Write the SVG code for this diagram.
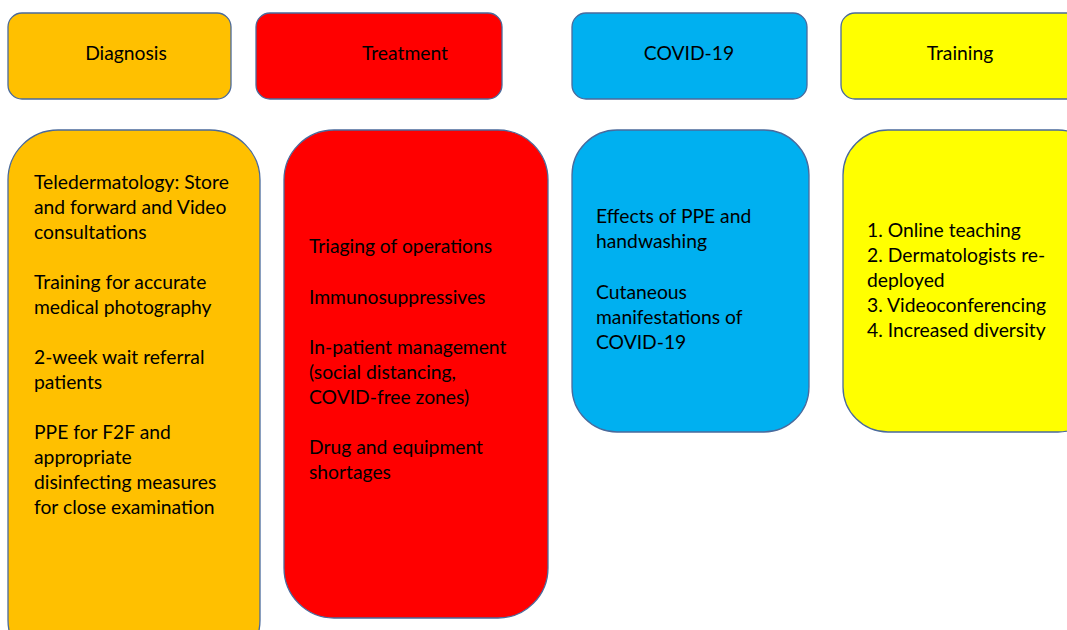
<svg xmlns="http://www.w3.org/2000/svg" width="1067" height="630" viewBox="0 0 1067 630">
<style>
.box{stroke:#4a6a9c;stroke-width:1.3}
.t{font-family:Lato,"Liberation Sans",sans-serif;font-size:19.3px;fill:#000}
.h{text-anchor:middle}
</style>
<rect width="1067" height="630" fill="#fff"/>
<g id="diagnosis-header"><rect class="box" x="8" y="13" width="223" height="86" rx="14" fill="#FFC000"/><text class="t h" x="126" y="60">Diagnosis</text></g>
<g id="treatment-header"><rect class="box" x="256" y="13" width="246" height="86" rx="14" fill="#FF0000"/><text class="t h" x="405" y="60">Treatment</text></g>
<g id="covid-header"><rect class="box" x="572" y="13" width="235" height="86" rx="14" fill="#00B0F0"/><text class="t h" x="689" y="60">COVID-19</text></g>
<g id="training-header"><rect class="box" x="841" y="13" width="250" height="86" rx="14" fill="#FFFF00"/><text class="t h" x="960" y="60">Training</text></g>
<g id="diagnosis-body"><rect class="box" x="8" y="130" width="252" height="540" rx="50" fill="#FFC000"/>
<text class="t" x="34"><tspan x="34" y="189">Teledermatology: Store</tspan><tspan x="34" y="214">and forward and Video</tspan><tspan x="34" y="239">consultations</tspan><tspan x="34" y="289">Training for accurate</tspan><tspan x="34" y="314">medical photography</tspan><tspan x="34" y="364">2-week wait referral</tspan><tspan x="34" y="389">patients</tspan><tspan x="34" y="439">PPE for F2F and</tspan><tspan x="34" y="464">appropriate</tspan><tspan x="34" y="489">disinfecting measures</tspan><tspan x="34" y="514">for close examination</tspan></text></g>
<g id="treatment-body"><rect class="box" x="284" y="130" width="264" height="488" rx="50" fill="#FF0000"/>
<text class="t"><tspan x="309" y="253">Triaging of operations</tspan><tspan x="309" y="304">Immunosuppressives</tspan><tspan x="309" y="354">In-patient management</tspan><tspan x="309" y="379">(social distancing,</tspan><tspan x="309" y="404">COVID-free zones)</tspan><tspan x="309" y="454">Drug and equipment</tspan><tspan x="309" y="479">shortages</tspan></text></g>
<g id="covid-body"><rect class="box" x="572" y="130" width="237" height="302" rx="45" fill="#00B0F0"/>
<text class="t"><tspan x="596" y="223">Effects of PPE and</tspan><tspan x="596" y="248">handwashing</tspan><tspan x="596" y="299">Cutaneous</tspan><tspan x="596" y="324">manifestations of</tspan><tspan x="596" y="349">COVID-19</tspan></text></g>
<g id="training-body"><rect class="box" x="843" y="130" width="260" height="302" rx="45" fill="#FFFF00"/>
<text class="t"><tspan x="867" y="237">1. Online teaching</tspan><tspan x="867" y="262">2. Dermatologists re-</tspan><tspan x="867" y="287">deployed</tspan><tspan x="867" y="312">3. Videoconferencing</tspan><tspan x="867" y="337">4. Increased diversity</tspan></text></g>
<g id="connectors"/>
</svg>
